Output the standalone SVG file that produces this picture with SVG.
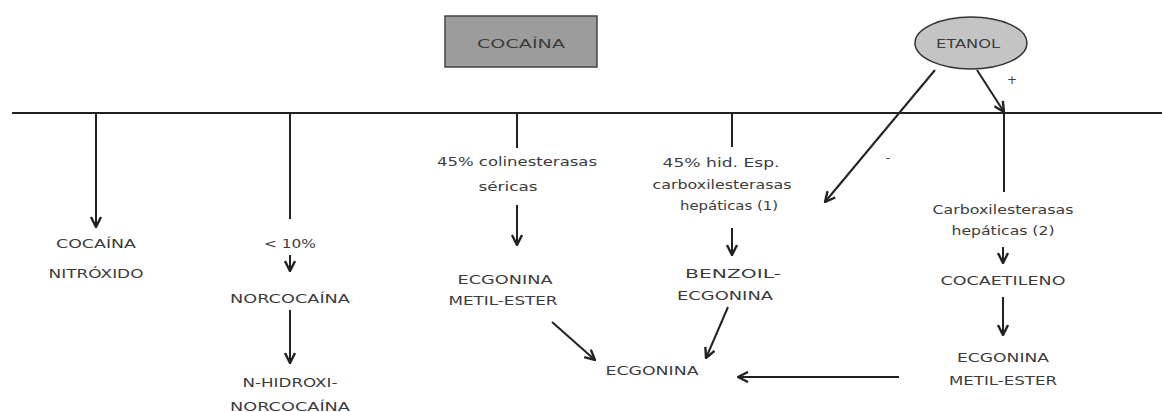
<svg xmlns="http://www.w3.org/2000/svg" width="1162" height="412" viewBox="0 0 1162 412">
<style>
.t{font-family:"DejaVu Sans","Liberation Sans",sans-serif;font-size:12px;fill:#3c3c3c;text-anchor:middle}
.c{stroke:#222;stroke-width:2;fill:none}
</style>
<defs>
<marker id="ah" viewBox="0 0 12 12" refX="11" refY="6" markerWidth="12" markerHeight="12" markerUnits="userSpaceOnUse" orient="auto">
<path d="M1,1 L11,6 L1,11" fill="none" stroke="#222" stroke-width="2.4"/>
</marker>
</defs>
<rect width="1162" height="412" fill="#fff"/>
<g id="connectors">
<line class="c" x1="12" y1="113" x2="1162" y2="113"/>
<line class="c" x1="96" y1="113" x2="96" y2="227" marker-end="url(#ah)"/>
<line class="c" x1="290" y1="113" x2="290" y2="219"/>
<line class="c" x1="290" y1="255" x2="290" y2="271" marker-end="url(#ah)"/>
<line class="c" x1="290" y1="310" x2="290" y2="363" marker-end="url(#ah)"/>
<line class="c" x1="517" y1="113" x2="517" y2="148"/>
<line class="c" x1="517" y1="205" x2="517" y2="245" marker-end="url(#ah)"/>
<line class="c" x1="732" y1="113" x2="732" y2="147"/>
<line class="c" x1="732" y1="228" x2="732" y2="255" marker-end="url(#ah)"/>
<line class="c" x1="977" y1="70" x2="1004" y2="112" marker-end="url(#ah)"/>
<line class="c" x1="1004" y1="113" x2="1004" y2="192"/>
<line class="c" x1="935" y1="70" x2="825" y2="202" marker-end="url(#ah)"/>
<line class="c" x1="1003" y1="247" x2="1003" y2="263" marker-end="url(#ah)"/>
<line class="c" x1="1003" y1="297" x2="1003" y2="335" marker-end="url(#ah)"/>
<line class="c" x1="552" y1="322" x2="595" y2="360" marker-end="url(#ah)"/>
<line class="c" x1="728" y1="307" x2="706" y2="358" marker-end="url(#ah)"/>
<line class="c" x1="899" y1="377" x2="738" y2="377" marker-end="url(#ah)"/>
<text class="t" x="1012" y="84">+</text>
<text class="t" x="888" y="162">-</text>
</g>
<g id="cocaina">
<rect x="445" y="16" width="152" height="51" fill="#9c9c9c" stroke="#444" stroke-width="1.5"/>
<text class="t" x="521" y="48" textLength="88" lengthAdjust="spacingAndGlyphs">COCAÍNA</text>
</g>
<g id="etanol">
<ellipse cx="971" cy="43" rx="56" ry="26" fill="#c4c4c4" stroke="#333" stroke-width="1.5"/>
<text class="t" x="968" y="48" textLength="64" lengthAdjust="spacingAndGlyphs">ETANOL</text>
</g>
<g id="nitroxido">
<text class="t" x="96" y="248" textLength="80" lengthAdjust="spacingAndGlyphs">COCAÍNA</text>
<text class="t" x="96" y="278" textLength="95" lengthAdjust="spacingAndGlyphs">NITRÓXIDO</text>
</g>
<g id="norcocaina">
<text class="t" x="290" y="248" textLength="52" lengthAdjust="spacingAndGlyphs">&lt; 10%</text>
<text class="t" x="290" y="303" textLength="120" lengthAdjust="spacingAndGlyphs">NORCOCAÍNA</text>
</g>
<g id="n-hidroxi">
<text class="t" x="290" y="387" textLength="95" lengthAdjust="spacingAndGlyphs">N-HIDROXI-</text>
<text class="t" x="290" y="411" textLength="120" lengthAdjust="spacingAndGlyphs">NORCOCAÍNA</text>
</g>
<g id="colinesterasas">
<text class="t" x="517" y="166" textLength="160" lengthAdjust="spacingAndGlyphs">45% colinesterasas</text>
<text class="t" x="508" y="191" textLength="59" lengthAdjust="spacingAndGlyphs">séricas</text>
</g>
<g id="ecgonina-metilester-1">
<text class="t" x="505" y="284" textLength="95" lengthAdjust="spacingAndGlyphs">ECGONINA</text>
<text class="t" x="503" y="305" textLength="109" lengthAdjust="spacingAndGlyphs">METIL-ESTER</text>
</g>
<g id="carboxil-1">
<text class="t" x="721" y="167" textLength="117" lengthAdjust="spacingAndGlyphs">45%  hid. Esp.</text>
<text class="t" x="722" y="189" textLength="139" lengthAdjust="spacingAndGlyphs">carboxilesterasas</text>
<text class="t" x="729" y="210" textLength="98" lengthAdjust="spacingAndGlyphs">hepáticas (1)</text>
</g>
<g id="benzoilecgonina">
<text class="t" x="733" y="278" textLength="96" lengthAdjust="spacingAndGlyphs">BENZOIL-</text>
<text class="t" x="725" y="300" textLength="96" lengthAdjust="spacingAndGlyphs">ECGONINA</text>
</g>
<g id="ecgonina">
<text class="t" x="652" y="375" textLength="93" lengthAdjust="spacingAndGlyphs">ECGONINA</text>
</g>
<g id="carboxil-2">
<text class="t" x="1003" y="214" textLength="141" lengthAdjust="spacingAndGlyphs">Carboxilesterasas</text>
<text class="t" x="1003" y="235" textLength="103" lengthAdjust="spacingAndGlyphs">hepáticas (2)</text>
</g>
<g id="cocaetileno">
<text class="t" x="1003" y="285" textLength="125" lengthAdjust="spacingAndGlyphs">COCAETILENO</text>
</g>
<g id="ecgonina-metilester-2">
<text class="t" x="1003" y="362" textLength="92" lengthAdjust="spacingAndGlyphs">ECGONINA</text>
<text class="t" x="1003" y="385" textLength="108" lengthAdjust="spacingAndGlyphs">METIL-ESTER</text>
</g>
</svg>
